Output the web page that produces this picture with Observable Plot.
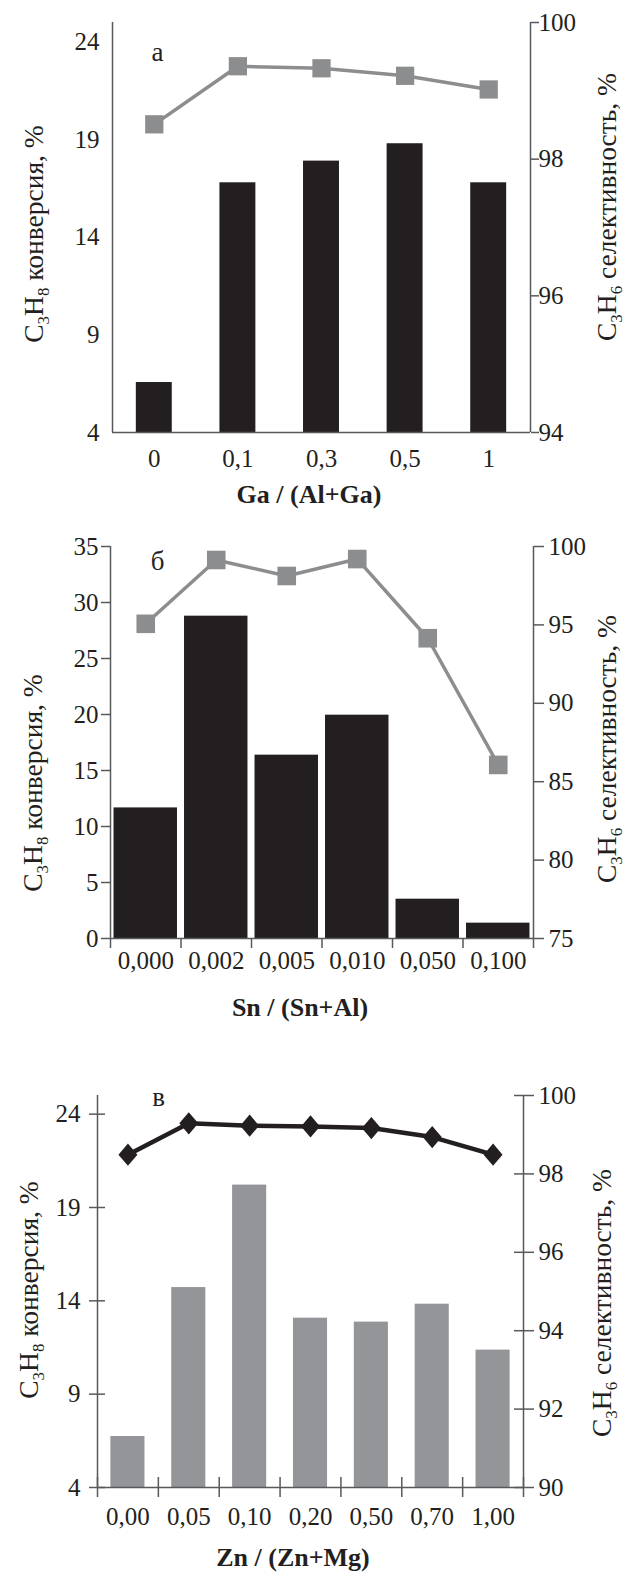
<!DOCTYPE html>
<html>
<head>
<meta charset="utf-8">
<script src="https://cdn.jsdelivr.net/npm/d3@7"></script>
<script src="https://cdn.jsdelivr.net/npm/@observablehq/plot@0.6"></script>
<style>
  body { margin: 0; background: #fff; }
  #page { position: relative; width: 628px; height: 1573px; overflow: hidden; background: #fff; }
  .panel { position: absolute; left: 0; width: 628px; }
  .panel svg { position: absolute; left: 0; top: 0; }
  #titles { position: absolute; left: 0; top: 0; pointer-events: none; }
  svg text { font-family: "Liberation Serif", "Times New Roman", serif; }
</style>
</head>
<body>
<div id="page"></div>
<script>
// ---------- data ----------
const catsA = ["0", "0,1", "0,3", "0,5", "1"];
const convA = [6.56, 16.79, 17.9, 18.79, 16.79];
const selA = [98.51, 99.36, 99.33, 99.22, 99.02];
const ticksLA = [4, 9, 14, 19, 24];
const ticksRA = [94, 96, 98, 100];
const domLA = [4, 25];
const domRA = [94, 100];

const catsB = ["0,000", "0,002", "0,005", "0,010", "0,050", "0,100"];
const convB = [11.66, 28.78, 16.37, 19.94, 3.51, 1.37];
const selB = [95.07, 99.14, 98.12, 99.2, 94.15, 86.07];
const ticksLB = [0, 5, 10, 15, 20, 25, 30, 35];
const ticksRB = [75, 80, 85, 90, 95, 100];
const domLB = [0, 35];
const domRB = [75, 100];

const catsC = ["0,00", "0,05", "0,10", "0,20", "0,50", "0,70", "1,00"];
const convC = [6.73, 14.71, 20.2, 13.07, 12.86, 13.82, 11.36];
const selC = [98.49, 99.29, 99.23, 99.21, 99.17, 98.94, 98.49];
const ticksLC = [4, 9, 14, 19, 24];
const ticksRC = [90, 92, 94, 96, 98, 100];
const domLC = [4, 25];
const domRC = [90, 100];

const panelLetters = ["а", "б", "в"];
const xTitles = ["Ga / (Al+Ga)", "Sn / (Sn+Al)", "Zn / (Zn+Mg)"];
const leftTitle = ["C", "3", "H", "8", " конверсия, %"];
const rightTitle = ["C", "3", "H", "6", " селективность, %"];

// ---------- styles / layout ----------
const W = 628, H = 1573;
const INK = "#231f20", AXIS = "#58595b", GRAY_LINE = "#8c8d8f", GRAY_BAR = "#939598";
const FONT = "Liberation Serif, Times New Roman, serif";
const TICK_FS = 25;

const diamondSym = {
  draw(ctx, size) {
    const a = Math.sqrt(size / 1.7), b = 0.85 * a;
    ctx.moveTo(0, -a); ctx.lineTo(b, 0); ctx.lineTo(0, a); ctx.lineTo(-b, 0); ctx.closePath();
  }
};

const panels = [
  {cats: catsA, conv: convA, sel: selA, ticksL: ticksLA, ticksR: ticksRA, domL: domLA, domR: domRA,
   top: 0, height: 520, mt: 22, mb: 88, ml: 112, mr: 98, pad: 0.57,
   barFill: INK, lineStroke: GRAY_LINE, lineW: 3.5, dotFill: GRAY_LINE, symbol: "square", r: 10.3,
   axL: {size: 0, pad: 13, dx: 0}, axR: {size: 8, pad: 0, dx: 0}, xPad: 17, bTick: null,
   letter: {dx: 45, dy: 38}, letterFs: 27,
   titleL: [43, 234], titleR: [616, 207], titleX: [309, 503]},
  {cats: catsB, conv: convB, sel: selB, ticksL: ticksLB, ticksR: ticksRB, domL: domLB, domR: domRB,
   top: 520, height: 520, mt: 26, mb: 102, ml: 110, mr: 95, pad: 0.1,
   barFill: INK, lineStroke: GRAY_LINE, lineW: 3.5, dotFill: GRAY_LINE, symbol: "square", r: 10.5,
   axL: {size: 9, pad: 3, dx: 0}, axR: {size: 10, pad: 5, dx: 0}, xPad: 13, bTick: {size: 10, dy: 0},
   letter: {dx: 47, dy: 23}, letterFs: 27,
   titleL: [42, 263], titleR: [616, 229], titleX: [300, 496]},
  {cats: catsC, conv: convC, sel: selC, ticksL: ticksLC, ticksR: ticksRC, domL: domLC, domR: domRC,
   top: 1040, height: 533, mt: 55, mb: 86, ml: 97, mr: 105, pad: 0.44,
   barFill: GRAY_BAR, lineStroke: INK, lineW: 4.5, dotFill: INK, symbol: diamondSym, r: 8.2,
   axL: {size: 16, pad: 9, dx: 8}, axR: {size: 20, pad: 5, dx: -10}, xPad: 20, bTick: {size: 20, dy: -10},
   letter: {dx: 61, dy: 10}, letterFs: 27,
   titleL: [38, 250], titleR: [611, 263], titleX: [293, 526]}
];

const page = document.getElementById("page");
const plotStyle = {fontFamily: FONT, fontSize: TICK_FS + "px", color: INK, background: "transparent", overflow: "visible"};
const fmt = d => String(d);

panels.forEach((p, k) => {
  const n = p.cats.length;
  const step = (W - p.ml - p.mr) / n;
  const rows = p.cats.map((c, i) => ({cat: c, conv: p.conv[i], sel: p.sel[i]}));
  const base = {
    width: W, height: p.height,
    marginTop: p.mt, marginBottom: p.mb, marginLeft: p.ml, marginRight: p.mr,
    style: plotStyle
  };
  const xScale = {type: "band", domain: p.cats, paddingInner: p.pad, paddingOuter: p.pad / 2, round: false};

  const marksL = [
    Plot.barY(rows, {x: "cat", y1: () => p.domL[0], y2: "conv", fill: p.barFill}),
    Plot.ruleY([p.domL[0]], {stroke: AXIS, strokeWidth: 1.5}),
    Plot.ruleX([p.cats[0]], {x: d => d, y1: () => p.domL[0], y2: () => p.domL[1], dx: -step / 2, stroke: AXIS, strokeWidth: 1.5}),
    Plot.axisY({anchor: "left", ticks: p.ticksL, tickSize: p.axL.size, tickPadding: p.axL.pad, dx: p.axL.dx,
                tickFormat: fmt, fontSize: TICK_FS, label: null, stroke: AXIS, strokeWidth: 1.5}),
    Plot.axisX({anchor: "bottom", tickSize: 0, tickPadding: p.xPad, fontSize: TICK_FS, label: null}),
    Plot.text([panelLetters[k]], {text: d => d, frameAnchor: "top-left", textAnchor: "middle", lineAnchor: "bottom",
               dx: p.letter.dx, dy: p.letter.dy, fontSize: p.letterFs, fill: INK})
  ];
  if (p.bTick) {
    marksL.push(Plot.axisX({anchor: "bottom", tickSize: p.bTick.size, dy: p.bTick.dy, dx: -step / 2,
      tickFormat: () => "", label: null, stroke: AXIS, strokeWidth: 1.5}));
    marksL.push(Plot.axisX({anchor: "bottom", ticks: [p.cats[n - 1]], tickSize: p.bTick.size, dy: p.bTick.dy, dx: step / 2,
      tickFormat: () => "", label: null, stroke: AXIS, strokeWidth: 1.5}));
  }

  const plotL = Plot.plot({
    ...base,
    x: xScale,
    y: {domain: p.domL, nice: false},
    marks: marksL
  });

  const plotR = Plot.plot({
    ...base,
    x: {...xScale, axis: null},
    y: {domain: p.domR, nice: false},
    marks: [
      Plot.ruleX([p.cats[n - 1]], {x: d => d, y1: () => p.domR[0], y2: () => p.domR[1], dx: step / 2, stroke: AXIS, strokeWidth: 1.5}),
      Plot.axisY({anchor: "right", ticks: p.ticksR, tickSize: p.axR.size, tickPadding: p.axR.pad, dx: p.axR.dx,
                  tickFormat: fmt, fontSize: TICK_FS, label: null, stroke: AXIS, strokeWidth: 1.5}),
      Plot.line(rows, {x: "cat", y: "sel", stroke: p.lineStroke, strokeWidth: p.lineW}),
      Plot.dot(rows, {x: "cat", y: "sel", symbol: p.symbol, r: p.r, fill: p.dotFill, stroke: "none"})
    ]
  });

  const div = document.createElement("div");
  div.className = "panel";
  div.style.top = p.top + "px";
  div.style.height = p.height + "px";
  div.appendChild(plotL);
  div.appendChild(plotR);
  page.appendChild(div);
});

// ---------- axis titles (with subscripts) ----------
const tsvg = d3.create("svg").attr("id", "titles").attr("width", W).attr("height", H)
  .style("font-family", FONT).attr("fill", INK);

function vTitle(parts, x, y) {
  const t = tsvg.append("text")
    .attr("transform", `translate(${x},${y}) rotate(-90)`)
    .attr("text-anchor", "middle")
    .style("font-size", "27.5px");
  t.append("tspan").text(parts[0]);
  t.append("tspan").style("font-size", "17px").attr("dy", 6).text(parts[1]);
  t.append("tspan").attr("dy", -6).text(parts[2]);
  t.append("tspan").style("font-size", "17px").attr("dy", 6).text(parts[3]);
  t.append("tspan").attr("dy", -6).text(parts[4]);
}

panels.forEach((p, k) => {
  vTitle(leftTitle, p.titleL[0], p.top + p.titleL[1]);
  vTitle(rightTitle, p.titleR[0], p.top + p.titleR[1]);
  tsvg.append("text")
    .attr("x", p.titleX[0]).attr("y", p.top + p.titleX[1])
    .attr("text-anchor", "middle").style("font-size", "26px").style("font-weight", "bold")
    .text(xTitles[k]);
});

page.appendChild(tsvg.node());
</script>
</body>
</html>
